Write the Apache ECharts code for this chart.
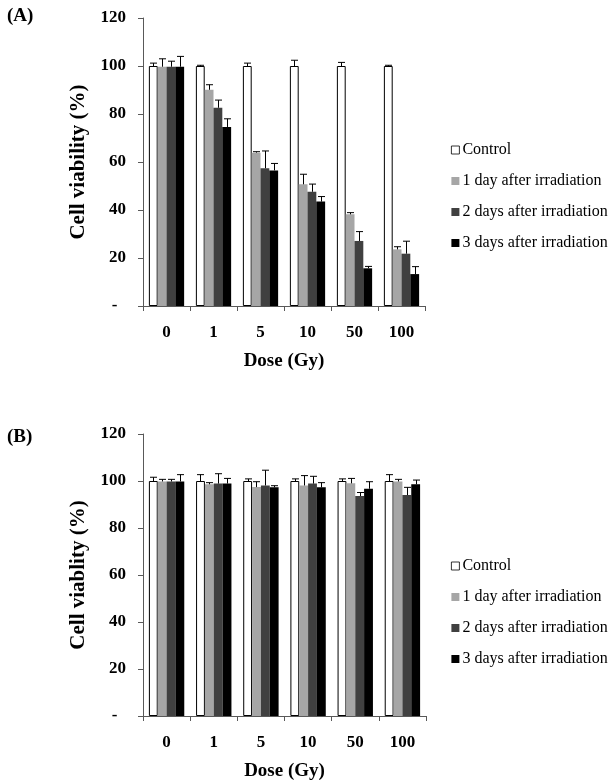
<!DOCTYPE html>
<html>
<head>
    <meta charset="utf-8">
    <title>Cell viability</title>
    <script src="https://cdn.jsdelivr.net/npm/echarts@6/dist/echarts.min.js"></script>
    <style>
        body { margin: 0; background: #fff; }
    </style>
</head>
<body>
<div id="main" style="width: 610px;height:783px;"></div>
<script type="text/javascript">
    // 剂量分类
    var doses = ['0', '1', '5', '10', '50', '100'];
    var seriesNames = ['Control', '1 day after irradiation', '2 days after irradiation', '3 days after irradiation'];
    var yTicks = [0, 20, 40, 60, 80, 100, 120];

    // (A) 平均值与误差
    var ctrlA = [100, 100, 100, 100, 100, 100];
    var ctrlErrA = [1.2, 0.3, 1.2, 2.4, 1.5, 0.3];
    var day1A = [99.7, 90.1, 63.9, 50.7, 38.2, 23.6];
    var day1ErrA = [3.3, 2.1, 0.4, 4.2, 0.7, 1.1];
    var day2A = [99.7, 82.6, 57.4, 47.6, 27.1, 21.8];
    var day2ErrA = [2.3, 3.2, 7.2, 3.2, 3.9, 5.2];
    var day3A = [99.7, 74.6, 56.5, 43.5, 15.7, 13.3];
    var day3ErrA = [4.3, 3.4, 2.9, 2.1, 0.8, 3.1];

    // (B) 平均值与误差
    var ctrlB = [100, 100, 100, 100, 100, 100];
    var ctrlErrB = [1.6, 2.7, 0.9, 0.9, 0.9, 2.7];
    var day1B = [99.8, 98.6, 97.4, 98.1, 99.0, 99.8];
    var day1ErrB = [0.9, 0.7, 2.3, 4.2, 2.1, 0.9];
    var day2B = [99.8, 98.9, 98.1, 98.9, 93.6, 94.0];
    var day2ErrB = [0.9, 4.2, 6.5, 3.1, 1.5, 3.3];
    var day3B = [99.8, 98.9, 97.3, 97.3, 96.7, 98.6];
    var day3ErrB = [2.9, 2.2, 0.7, 2.0, 3.0, 1.8];

    var colors = ['#ffffff', '#a6a6a6', '#404040', '#000000'];
    var font = 'Liberation Serif';

    function makeErrData(means, errs, idx) {
        return means.map(function (v, i) { return [i, v, errs[i], idx]; });
    }

    function renderErr(params, api) {
        var cat = api.value(0), val = api.value(1), err = api.value(2), idx = api.value(3);
        var bw = api.size([1, 0])[0];
        var barW = bw * 0.75 / 4;
        var p0 = api.coord([cat, val]);
        var p1 = api.coord([cat, val + err]);
        var x = Math.round(p0[0] - bw * 0.375 + barW * (idx + 0.5)) + 0.5;
        var st = { stroke: '#000', lineWidth: 1 };
        return {
            type: 'group',
            children: [
                { type: 'line', shape: { x1: x, y1: p0[1], x2: x, y2: p1[1] }, style: st },
                { type: 'line', shape: { x1: x - 3.5, y1: p1[1], x2: x + 3.5, y2: p1[1] }, style: st }
            ]
        };
    }

    function xAxisCfg(gi) {
        return {
            type: 'category', gridIndex: gi, data: doses,
            name: 'Dose (Gy)', nameLocation: 'middle', nameGap: 46,
            nameTextStyle: { fontFamily: font, fontWeight: 'bold', fontSize: 19, color: '#000' },
            axisLine: { lineStyle: { color: '#595959', width: 1 } },
            axisTick: { show: true, length: 5, lineStyle: { color: '#595959' } },
            axisLabel: { fontFamily: font, fontWeight: 'bold', fontSize: 17, color: '#000', margin: 18 }
        };
    }

    function yAxisCfg(gi, title) {
        return {
            type: 'value', gridIndex: gi, min: 0, max: 120, interval: 20,
            name: title, nameLocation: 'middle', nameGap: 54, nameRotate: 90,
            nameTextStyle: { fontFamily: font, fontWeight: 'bold', fontSize: 21, color: '#000' },
            axisLine: { show: true, lineStyle: { color: '#595959', width: 1 } },
            axisTick: { show: true, length: 5, lineStyle: { color: '#595959' } },
            splitLine: { show: false },
            axisLabel: {
                fontFamily: font, fontWeight: 'bold', fontSize: 17, color: '#000', margin: 17,
                formatter: function (v) { return v === 0 ? '-  ' : String(v); }
            }
        };
    }

    var panels = [
        { means: [ctrlA, day1A, day2A, day3A], errs: [ctrlErrA, day1ErrA, day2ErrA, day3ErrA] },
        { means: [ctrlB, day1B, day2B, day3B], errs: [ctrlErrB, day1ErrB, day2ErrB, day3ErrB] }
    ];

    var series = [];
    panels.forEach(function (p, gi) {
        p.means.forEach(function (m, si) {
            series.push({
                name: seriesNames[si], type: 'bar', xAxisIndex: gi, yAxisIndex: gi,
                data: m, barGap: '0%', barCategoryGap: '25%',
                itemStyle: {
                    color: colors[si],
                    borderColor: si === 0 ? '#000' : colors[si],
                    borderWidth: si === 0 ? 1 : 0
                },
                emphasis: { disabled: true }
            });
        });
        p.means.forEach(function (m, si) {
            series.push({
                type: 'custom', xAxisIndex: gi, yAxisIndex: gi, z: 5,
                renderItem: renderErr, encode: { x: 0, y: 1 },
                data: makeErrData(m, p.errs[si], si)
            });
        });
    });

    function legendCfg(top) {
        return {
            orient: 'vertical', left: 446, top: top,
            itemWidth: 8, itemHeight: 8, itemGap: 15, icon: 'rect',
            data: seriesNames.map(function (n, i) {
                return {
                    name: n,
                    itemStyle: { color: colors[i], borderColor: '#000', borderWidth: i === 0 ? 0.8 : 0 }
                };
            }),
            textStyle: { fontFamily: font, fontSize: 16, color: '#000', padding: [0, 0, 0, -2] }
        };
    }

    var myChart = echarts.init(document.getElementById('main'));
    myChart.setOption({
        animation: false,
        grid: [
            { left: 143, top: 18, width: 282, height: 288 },
            { left: 143, top: 434, width: 283, height: 282 }
        ],
        xAxis: [xAxisCfg(0), xAxisCfg(1)],
        yAxis: [yAxisCfg(0, 'Cell viability (%)'), yAxisCfg(1, 'Cell viablity (%)')],
        legend: [legendCfg(137), legendCfg(553)],
        graphic: [
            { type: 'text', left: 7, top: 7, style: { text: '(A)', fontFamily: font, fontWeight: 'bold', fontSize: 19, fill: '#000' } },
            { type: 'text', left: 7, top: 428, style: { text: '(B)', fontFamily: font, fontWeight: 'bold', fontSize: 19, fill: '#000' } }
        ],
        series: series
    });
</script>
</body>
</html>
